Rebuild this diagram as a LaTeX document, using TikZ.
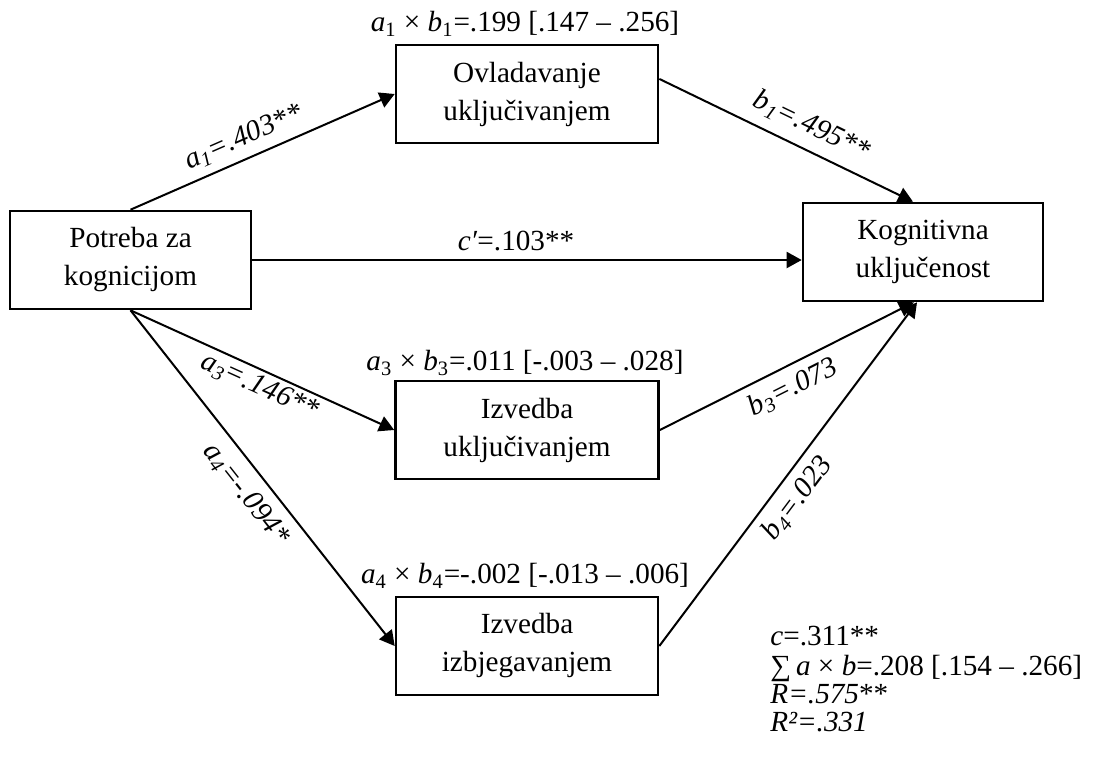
\documentclass[tikz,border=0pt]{standalone}
\usepackage{fontspec}
\setmainfont{Liberation Serif}
\usetikzlibrary{arrows.meta,calc}
\newcommand{\sv}[2]{\textit{#1}\textsubscript{#2}}
\begin{document}
\begin{tikzpicture}[x=0.5pt,y=-0.5pt,
  font=\fontsize{14.6}{19}\selectfont,
  box/.style={draw, line width=1.3pt, minimum height=49pt, align=center, inner sep=0pt},
  conn/.style={line width=1pt, -{Triangle[length=7.5pt,width=8pt]}},
  lab/.style={sloped, inner sep=0pt, font=\fontsize{14.6}{19}\selectfont\itshape},
  eff/.style={anchor=base, inner sep=0pt},
  note/.style={anchor=base west, inner sep=0pt},
]
\useasboundingbox (0,0) rectangle (1096,772);

\node[box, minimum width=120.5pt] (P) at (130.5,260) {Potreba za\\kognicijom};
\node[box, minimum width=131pt] (O) at (527,94) {Ovladavanje\\uključivanjem};
\node[box, minimum width=120pt] (K) at (923,252) {Kognitivna\\uključenost};
\node[box, minimum width=131.5pt] (I1) at (527,430) {Izvedba\\uključivanjem};
\node[box, minimum width=131pt] (I2) at (527,646) {Izvedba\\izbjegavanjem};

\node[eff] (e1) at ($(O.north)+(-2,-12)$) {\sv{a}{1} × \sv{b}{1}=.199 [.147 – .256]};
\node[eff] (e3) at ($(I1.north)+(-2,-9)$) {\sv{a}{3} × \sv{b}{3}=.011 [-.003 – .028]};
\node[eff] (e4) at ($(I2.north)+(-2,-12)$) {\sv{a}{4} × \sv{b}{4}=-.002 [-.013 – .006]};

\draw[conn] (P.north) -- (O.west)
  node[lab, pos=0.46, yshift=10.3pt] {\sv{a}{1}=.403**};
\draw[conn] ($(O.north east)!0.35!(O.south east)$) -- ($(K.north)+(-10,0)$)
  node[lab, pos=0.56, yshift=12pt] {\sv{b}{1}=.495**};
\draw[conn] (P.east) -- (P.east -| K.west)
  node[pos=0.48, yshift=9.5pt, inner sep=0pt] {\textit{c′}=.103**};
\draw[conn] (P.south) -- (I1.west)
  node[lab, pos=0.515, yshift=-8pt] {\sv{a}{3}=.146**};
\draw[conn] (P.south) -- (I2.west)
  node[lab, pos=0.506, yshift=-11.7pt] {\sv{a}{4}=-.094*};
\draw[conn] (I1.east) -- ($(K.south)+(-9,0)$)
  node[lab, pos=0.486, yshift=-11pt] {\sv{b}{3}=.073};
\draw[conn] (I2.east) -- ($(K.south)+(-6,0)$)
  node[lab, pos=0.468, yshift=-11pt] {\sv{b}{4}=.023};

\node[note] (s1) at (770,645) {\textit{c}=.311**};
\node[note] (s2) at (770,675) {∑\,\textit{a} × \textit{b}=.208 [.154 – .266]};
\node[note] (s3) at (770,703) {\textit{R=.575}**};
\node[note] (s4) at (770,731) {\textit{R²=.331}};
\end{tikzpicture}
\end{document}
